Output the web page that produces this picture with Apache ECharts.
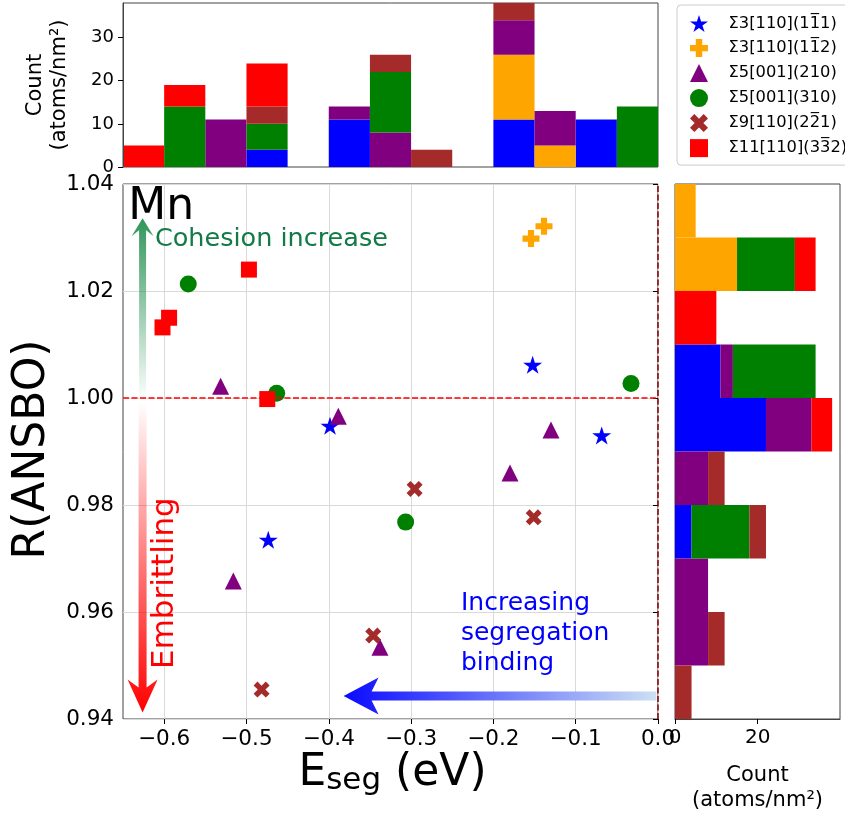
<!DOCTYPE html>
<html><head><meta charset="utf-8">
<script src="https://cdn.jsdelivr.net/npm/echarts@6/dist/echarts.min.js"></script>
<style>html,body{margin:0;padding:0;background:#fff}#c{width:845px;height:819px}</style>
</head><body><div id="c"></div>
<script>
const OV = '\u0305';
const seriesNames = ['Σ3[110](11' + OV + '1)', 'Σ3[110](11' + OV + '2)', 'Σ5[001](210)', 'Σ5[001](310)', 'Σ9[110](22' + OV + '1)', 'Σ11[110](33' + OV + '2)'];
const seriesColors = ['#0000ff', '#ffa500', '#800080', '#008000', '#a52a2a', '#ff0000'];

// scatter points [E_seg (eV), R(ANSBO)]
const s3_111 = [[-0.4735, 0.9735], [-0.3985, 0.9948], [-0.1523, 1.0062], [-0.0684, 0.9930]];
const s3_112 = [[-0.1543, 1.0298], [-0.1385, 1.0321]];
const s5_210 = [[-0.5314, 1.0022], [-0.5160, 0.9658], [-0.3884, 0.9966], [-0.3378, 0.9534], [-0.1798, 0.9860], [-0.1300, 0.9940]];
const s5_310 = [[-0.5707, 1.0213], [-0.4633, 1.0009], [-0.3066, 0.9768], [-0.0328, 1.0027]];
const s9_221 = [[-0.4816, 0.9455], [-0.3460, 0.9556], [-0.2957, 0.9830], [-0.1510, 0.9777]];
const s11_332 = [[-0.6020, 1.0132], [-0.5940, 1.0150], [-0.4970, 1.0240], [-0.4747, 0.9998]];

// top histogram (E_seg bins of 0.05 eV from -0.65 to 0)
const topBins = ['-0.65', '-0.60', '-0.55', '-0.50', '-0.45', '-0.40', '-0.35', '-0.30', '-0.25', '-0.20', '-0.15', '-0.10', '-0.05'];
const top3_111 = [0, 0, 0, 4, 0, 11, 0, 0, 0, 11, 0, 11, 0];
const top3_112 = [0, 0, 0, 0, 0, 0, 0, 0, 0, 15, 5, 0, 0];
const top5_210 = [0, 0, 11, 0, 0, 3, 8, 0, 0, 8, 8, 0, 0];
const top5_310 = [0, 14, 0, 6, 0, 0, 14, 0, 0, 0, 0, 0, 14];
const top9_221 = [0, 0, 0, 4, 0, 0, 4, 4, 0, 4, 0, 0, 0];
const top11_332 = [5, 5, 0, 10, 0, 0, 0, 0, 0, 0, 0, 0, 0];

// right histogram (R bins of 0.01 from 0.94 to 1.04, bottom to top)
const rBins = ['0.94', '0.95', '0.96', '0.97', '0.98', '0.99', '1.00', '1.01', '1.02', '1.03'];
const r3_111 = [0, 0, 0, 4, 0, 22, 11, 0, 0, 0];
const r3_112 = [0, 0, 0, 0, 0, 0, 0, 0, 15, 5];
const r5_210 = [0, 8, 8, 0, 8, 11, 3, 0, 0, 0];
const r5_310 = [0, 0, 0, 14, 0, 0, 20, 0, 14, 0];
const r9_221 = [4, 4, 0, 4, 4, 0, 0, 0, 0, 0];
const r11_332 = [0, 0, 0, 0, 0, 5, 0, 10, 5, 0];

// axis ticks
const xTickMin = -0.6, xTickMax = 0, xTickStep = 0.1;
const yTickMin = 0.94, yTickMax = 1.04, yTickStep = 0.02;

const scatterData = [s3_111, s3_112, s5_210, s5_310, s9_221, s11_332];
const topData = [top3_111, top3_112, top5_210, top5_310, top9_221, top11_332];
const rightData = [r3_111, r3_112, r5_210, r5_310, r9_221, r11_332];

const STAR = 'path://M100,0L122.45,69.1L195.1,69.1L136.3,111.8L158.8,180.9L100,138.2L41.2,180.9L63.7,111.8L4.9,69.1L77.55,69.1Z';
const PLUS = 'path://M32,0L68,0L68,32L100,32L100,68L68,68L68,100L32,100L32,68L0,68L0,32L32,32Z';
const XMARK = 'path://M0,24L24,0L50,26L76,0L100,24L74,50L100,76L76,100L50,74L24,100L0,76L26,50Z';
const symbols = [STAR, PLUS, 'triangle', 'circle', XMARK, 'rect'];
const symbolSizes = [19, 17, 17, 17, 16, 16];

const FONT = "'DejaVu Sans', sans-serif";
const X_MIN = -0.65, X_MAX = 0;
const MAIN = {left: 123, top: 184, width: 535, height: 535};
const TOPG = {left: 123, top: 3, width: 535, height: 164};
const RIGHTG = {left: 675, top: 184, width: 165, height: 535};
const tickLeft = MAIN.left + (xTickMin - X_MIN) / (X_MAX - X_MIN) * MAIN.width;
const tickWidth = MAIN.left + MAIN.width - tickLeft;

const chart = echarts.init(document.getElementById('c'), null, {renderer: 'canvas'});

const series = [];
scatterData.forEach((d, i) => {
  const s = {
    type: 'scatter', name: seriesNames[i], xAxisIndex: 0, yAxisIndex: 0, data: d,
    symbol: symbols[i], symbolSize: symbolSizes[i], symbolKeepAspect: true,
    itemStyle: {color: seriesColors[i], opacity: 1}, z: 4
  };
  if (i === 0) {
    s.markLine = {
      silent: true, symbol: 'none', label: {show: false}, animation: false,
      data: [
        {yAxis: 1.0, lineStyle: {color: '#ff0000', type: [6, 2.5], width: 1.5}},
        {xAxis: 0, lineStyle: {color: '#8b0000', type: [6, 2.5], width: 1.5}}
      ]
    };
  }
  series.push(s);
});
topData.forEach((d, i) => series.push({
  type: 'bar', name: seriesNames[i], stack: 'top', xAxisIndex: 2, yAxisIndex: 2, data: d,
  barWidth: '100%', itemStyle: {color: seriesColors[i]}, z: 2
}));
rightData.forEach((d, i) => series.push({
  type: 'bar', name: seriesNames[i], stack: 'right', xAxisIndex: 3, yAxisIndex: 3, data: d,
  barWidth: '100%', itemStyle: {color: seriesColors[i]}, z: 2
}));

const tickStyle = {show: true, length: 5, lineStyle: {color: '#000', width: 1}};
const hiddenParts = {axisLine: {show: false}, axisTick: {show: false}, axisLabel: {show: false}, splitLine: {show: false}};
const minus = v => (v < -1e-9 ? '\u2212' : '') + Math.abs(v).toFixed(1);

const option = {
  animation: false,
  backgroundColor: '#fff',
  textStyle: {fontFamily: FONT},
  legend: {
    data: seriesNames, orient: 'vertical', left: 677, top: 5,
    itemWidth: 18, itemHeight: 18, itemGap: 7,
    padding: [10, 40, 8, 13],
    borderColor: '#cccccc', borderWidth: 1, borderRadius: 4, backgroundColor: '#fff',
    selectedMode: false,
    textStyle: {fontSize: 16.3, fontFamily: FONT, color: '#000'},
    formatter: n => '   ' + n
  },
  grid: [
    {left: MAIN.left, top: MAIN.top, width: MAIN.width, height: MAIN.height, show: true, borderColor: '#444', borderWidth: 1, backgroundColor: 'transparent'},
    {left: tickLeft, top: MAIN.top, width: tickWidth, height: MAIN.height, show: false},
    {left: TOPG.left, top: TOPG.top, width: TOPG.width, height: TOPG.height, show: true, borderColor: '#444', borderWidth: 1, backgroundColor: 'transparent'},
    {left: RIGHTG.left, top: RIGHTG.top, width: RIGHTG.width, height: RIGHTG.height, show: true, borderColor: '#444', borderWidth: 1, backgroundColor: 'transparent'}
  ],
  xAxis: [
    Object.assign({gridIndex: 0, type: 'value', min: X_MIN, max: X_MAX}, hiddenParts),
    {gridIndex: 1, type: 'value', min: xTickMin, max: xTickMax, interval: xTickStep,
      axisLine: {show: false}, axisTick: tickStyle,
      axisLabel: {fontSize: 21.5, color: '#000', margin: 9, fontFamily: FONT, formatter: minus},
      splitLine: {show: true, lineStyle: {color: '#d9d9d9', width: 1}}},
    Object.assign({gridIndex: 2, type: 'category', data: topBins}, hiddenParts),
    {gridIndex: 3, type: 'value', min: 0, max: 39.9, interval: 20, z: 10,
      axisLine: {show: true, lineStyle: {color: '#444', width: 1}}, axisTick: tickStyle,
      axisLabel: {fontSize: 20, color: '#000', margin: 9, fontFamily: FONT, showMaxLabel: false},
      splitLine: {show: false}}
  ],
  yAxis: [
    {gridIndex: 0, type: 'value', min: yTickMin, max: yTickMax, interval: yTickStep,
      axisLine: {show: false}, axisTick: tickStyle,
      axisLabel: {fontSize: 21.5, color: '#000', margin: 9, fontFamily: FONT, formatter: v => v.toFixed(2)},
      splitLine: {show: true, lineStyle: {color: '#d9d9d9', width: 1}}},
    Object.assign({gridIndex: 1, type: 'value', min: 0, max: 1}, hiddenParts),
    {gridIndex: 2, type: 'value', min: 0, max: 38, interval: 10, z: 10,
      axisLine: {show: true, lineStyle: {color: '#444', width: 1}}, axisTick: tickStyle,
      axisLabel: {fontSize: 18, color: '#000', margin: 9, fontFamily: FONT, showMaxLabel: false},
      splitLine: {show: false}},
    Object.assign({gridIndex: 3, type: 'category', data: rBins}, hiddenParts)
  ],
  series: series
};
chart.setOption(option);

// ---- annotations (placed from data coordinates) ----
const toPx = p => chart.convertToPixel({xAxisIndex: 0, yAxisIndex: 0}, p);
const arrows = [
  {tip: [-0.6262, 1.0336], tail: [-0.6262, 0.9995], head: 22, headLen: 18, notch: 6, shaft: 7,
    stops: [[0, 'rgba(46,150,90,1)'], [1, 'rgba(46,150,90,0)']]},
  {tip: [-0.6262, 0.9412], tail: [-0.6262, 0.9995], head: 30, headLen: 33, notch: 8, shaft: 8,
    stops: [[0, 'rgba(255,0,0,1)'], [1, 'rgba(255,0,0,0)']]},
  {tip: [-0.382, 0.9443], tail: [-0.002, 0.9443], head: 37, headLen: 35, notch: 7, shaft: 9,
    stops: [[0, '#0a0aff'], [0.5, '#6d78fa'], [1, '#cde0f4']]}
];
const texts = [
  {at: [-0.6435, 1.0356], text: 'Mn', size: 44, color: '#000', align: 'left'},
  {at: [-0.6112, 1.0297], text: 'Cohesion increase', size: 25.5, color: '#117a45', align: 'left'},
  {at: [-0.2394, 0.9560], text: 'Increasing\nsegregation\nbinding', size: 25, color: '#0000ff', align: 'left', lh: 30},
  {at: [-0.5990, 0.9654], text: 'Embrittling', size: 31, color: '#ff0000', align: 'center', rot: Math.PI / 2}
];

const graphics = [];
arrows.forEach(a => {
  const t = toPx(a.tip), e = toPx(a.tail);
  const dx = e[0] - t[0], dy = e[1] - t[1], L = Math.hypot(dx, dy);
  const d = [dx / L, dy / L], p = [-d[1], d[0]];
  const h = a.head / 2, s = a.shaft / 2;
  const P = (u, v) => [t[0] + d[0] * u + p[0] * v, t[1] + d[1] * u + p[1] * v];
  const pts = [P(0, 0), P(a.headLen, h), P(a.headLen - a.notch, s), P(L, s), P(L, -s), P(a.headLen - a.notch, -s), P(a.headLen, -h)];
  let x0 = 0, y0 = 0, x1 = 0, y1 = 0;
  if (Math.abs(dx) > Math.abs(dy)) { if (dx > 0) x1 = 1; else x0 = 1; }
  else { if (dy > 0) y1 = 1; else y0 = 1; }
  graphics.push({
    type: 'polygon', silent: true, z: 20, shape: {points: pts},
    style: {fill: new echarts.graphic.LinearGradient(x0, y0, x1, y1, a.stops.map(s2 => ({offset: s2[0], color: s2[1]})))}
  });
});
texts.forEach(o => {
  const q = toPx(o.at);
  graphics.push({
    type: 'text', silent: true, z: 21, x: q[0], y: q[1], rotation: o.rot || 0,
    style: {text: o.text, fontSize: o.size, fontFamily: FONT, fill: o.color, align: o.align, verticalAlign: 'middle', lineHeight: o.lh || o.size * 1.2}
  });
});
// axis titles
graphics.push({
  type: 'text', silent: true, z: 21, x: 33, y: MAIN.top + MAIN.height / 2 - 2, rotation: Math.PI / 2,
  style: {text: 'R(ANSBO)', fontSize: 44, fontFamily: FONT, fill: '#000', align: 'center', verticalAlign: 'middle'}
});
graphics.push({
  type: 'text', silent: true, z: 21, x: MAIN.left + MAIN.width / 2 + 2, y: 774,
  style: {
    text: '{a|E}{b|seg}{a| (eV)}', align: 'center', verticalAlign: 'middle',
    rich: {
      a: {fontSize: 44, lineHeight: 44, fontFamily: FONT, fill: '#000', verticalAlign: 'bottom'},
      b: {fontSize: 31, lineHeight: 31, fontFamily: FONT, fill: '#000', verticalAlign: 'bottom'}
    }
  }
});
graphics.push({
  type: 'text', silent: true, z: 21, x: 47.5, y: TOPG.top + TOPG.height / 2, rotation: Math.PI / 2,
  style: {text: 'Count\n(atoms/nm²)', fontSize: 21, lineHeight: 24, fontFamily: FONT, fill: '#000', align: 'center', verticalAlign: 'middle'}
});
graphics.push({
  type: 'text', silent: true, z: 21, x: RIGHTG.left + RIGHTG.width / 2, y: 788,
  style: {text: 'Count\n(atoms/nm²)', fontSize: 21, lineHeight: 25, fontFamily: FONT, fill: '#000', align: 'center', verticalAlign: 'middle'}
});
chart.setOption({graphic: graphics});
</script>
</body></html>
